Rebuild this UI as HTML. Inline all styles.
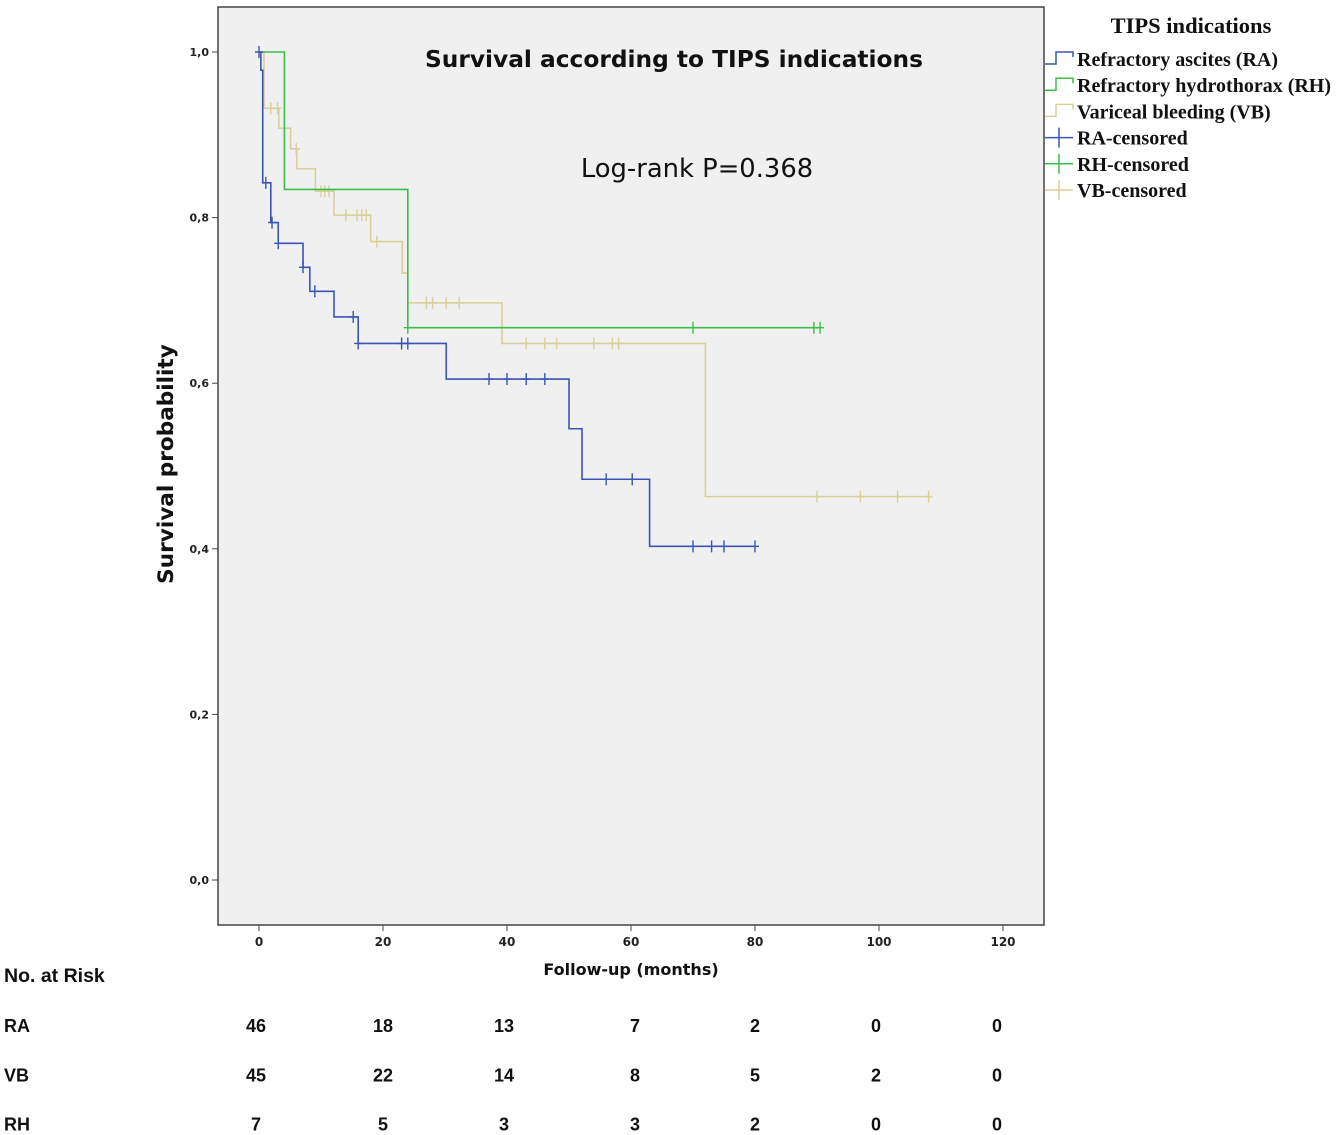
<!DOCTYPE html>
<html><head><meta charset="utf-8">
<style>
body{margin:0;background:#fff;width:1341px;height:1135px;overflow:hidden}
svg{display:block}
.sans{font-family:"DejaVu Sans","Liberation Sans",sans-serif}
.arial{font-family:"Liberation Sans",sans-serif}
.serif{font-family:"Liberation Serif",serif}
</style></head>
<body>
<svg id="chart" width="1341" height="1135" xmlns="http://www.w3.org/2000/svg">
<rect x="218" y="7" width="826" height="918" fill="#f0f0f0" stroke="#444" stroke-width="1.5"/>
<text x="674" y="67" text-anchor="middle" class="sans" font-size="23.3" font-weight="bold" fill="#111">Survival according to TIPS indications</text>
<text x="697" y="177" text-anchor="middle" class="sans" font-size="25.8" fill="#111">Log-rank P=0.368</text>
<text transform="translate(173,464) rotate(-90)" text-anchor="middle" class="sans" font-size="21.6" font-weight="bold" fill="#111">Survival probability</text>
<text x="631" y="975" text-anchor="middle" class="sans" font-size="16" font-weight="bold" fill="#111">Follow-up (months)</text>
<g id="axes"></g>
<g id="curves"></g>
<g id="legend"></g>
<g id="risk"></g>
</svg>
<script>
const xTicks=[0,20,40,60,80,100,120];
const yTicks=[0,0.2,0.4,0.6,0.8,1.0];
const raTimes=[0.3,0.6,1.9,3.1,7.1,8.2,12.1,16,30.2,50,52.1,63];
const raSurv=[0.978,0.842,0.794,0.769,0.740,0.711,0.680,0.648,0.605,0.545,0.484,0.403];
const raEnd=80;
const raCens=[0,1.1,2.1,3.1,7.1,9.0,15.2,16,23,24,37.1,40,43.1,46.1,56,60.2,70,73,75,80];
const rhTimes=[4.1,24];
const rhSurv=[0.834,0.667];
const rhEnd=90.5;
const rhCens=[24,70,89.5,90.5];
const vbTimes=[0.8,3.2,5.1,6.1,9.1,12.1,18,23.1,24,39.2,72];
const vbSurv=[0.932,0.908,0.883,0.859,0.832,0.803,0.771,0.733,0.697,0.648,0.463];
const vbEnd=108;
const vbCens=[1.9,3,6,10,10.6,11.3,14,15.8,16.6,17.3,19,27,28,30.2,32.3,43.1,46.1,48,54,57,58,90,97,103,108];
const riskGroups=["RA","VB","RH"];
const riskRA=[46,18,13,7,2,0,0];
const riskVB=[45,22,14,8,5,2,0];
const riskRH=[7,5,3,3,2,0,0];

const NS="http://www.w3.org/2000/svg";
const X=m=>259+m*6.2;
const Y=s=>880-s*828;
function mk(tag,attrs,parent,text){const e=document.createElementNS(NS,tag);for(const k in attrs)e.setAttribute(k,attrs[k]);if(text!==undefined)e.textContent=text;parent.appendChild(e);return e;}
const axes=document.getElementById('axes');
xTicks.forEach(t=>{
  const l=mk('line',{x1:X(t),x2:X(t),y1:925,y2:931,stroke:'#444','stroke-width':1},axes);
  
  
  const tx=mk('text',{x:X(t),y:946,'text-anchor':'middle','font-size':12,'font-weight':'bold',fill:'#222',class:'sans'},axes,String(t));
  
  
});
yTicks.forEach(t=>{
  const l=mk('line',{x1:212,x2:218,y1:Y(t),y2:Y(t),stroke:'#444','stroke-width':1},axes);
  
  
  const tx=mk('text',{x:209,y:Y(t)+4,'text-anchor':'end','font-size':11,'font-weight':'bold',fill:'#222',class:'sans'},axes,t.toFixed(1).replace('.',','));
  
  
});
const curves=document.getElementById('curves');
function stepVal(times,surv,t){let s=1;for(let i=0;i<times.length;i++){if(times[i]<=t)s=surv[i];}return s;}
function drawCurve(times,surv,end,cens,color,name,startT){
  let d='M'+X(startT)+','+Y(1);
  times.forEach((t,i)=>{d+=' H'+X(t)+' V'+Y(surv[i]);});
  d+=' H'+X(end);
  const p=mk('path',{d:d,fill:'none',stroke:color,'stroke-width':1.6},curves);
  
  
  cens.forEach(c=>{
    const v=stepVal(times,surv,c);
    const g=mk('path',{d:'M'+X(c)+','+(Y(v)-6)+' V'+(Y(v)+6)+' M'+(X(c)-4)+','+Y(v)+' H'+(X(c)+4),stroke:color,'stroke-width':1.4,fill:'none'},curves);
    
    
  });
}
drawCurve(vbTimes,vbSurv,vbEnd,vbCens,'#d8cf9a','vb',0.4);
drawCurve(rhTimes,rhSurv,rhEnd,rhCens,'#3cbf4a','rh',0.4);
drawCurve(raTimes,raSurv,raEnd,raCens,'#3a55b4','ra',0);

const lg=document.getElementById('legend');
const lt=mk('text',{x:1191,y:33,'text-anchor':'middle','font-size':22.5,'font-weight':'bold',fill:'#111',class:'serif'},lg,'TIPS indications');


const legItems=[['Refractory ascites (RA)','#3a55b4','step'],['Refractory hydrothorax (RH)','#3cbf4a','step'],['Variceal bleeding (VB)','#d8cf9a','step'],['RA-censored','#3a55b4','cross'],['RH-censored','#3cbf4a','cross'],['VB-censored','#d8cf9a','cross']];
legItems.forEach((it,i)=>{
  const y=59+i*26.2;
  const g=mk('g',{},lg);
  
  
  if(it[2]==='step') mk('path',{d:`M1045,${y+5} H1056 V${y-7} H1073 V${y-2}`,fill:'none',stroke:it[1],'stroke-width':1.5},g);
  else mk('path',{d:`M1045,${y} H1073 M1059,${y-10} V${y+10}`,fill:'none',stroke:it[1],'stroke-width':1.5},g);
  mk('text',{x:1077,y:y+7,'font-size':20,'font-weight':'bold',fill:'#111',class:'serif',textLength:(it[0].length>15?0:0)},g,it[0]);
});

const rk=document.getElementById('risk');
const h=mk('text',{x:4,y:982,'font-size':19.5,'font-weight':'bold',fill:'#111',class:'arial'},rk,'No. at Risk');


const cols=[256,383,504,635,755,876,997];
const rows=[riskRA,riskVB,riskRH];
riskGroups.forEach((gname,r)=>{
  const y=1032+r*49.3;
  const lab=mk('text',{x:4,y:y,'font-size':18,'font-weight':'bold',fill:'#111',class:'arial'},rk,gname);
  
  
  rows[r].forEach((v,c)=>{
    const t=mk('text',{x:cols[c],y:y,'text-anchor':'middle','font-size':18,'font-weight':'bold',fill:'#111',class:'arial'},rk,String(v));
    
    
  });
});
document.querySelectorAll('#legend text[textLength="0"]').forEach(e=>e.removeAttribute('textLength'));
</script>
</body></html>
